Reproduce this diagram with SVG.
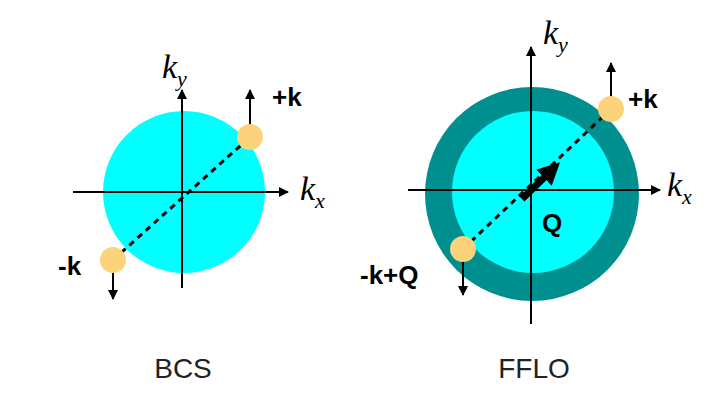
<svg xmlns="http://www.w3.org/2000/svg" width="714" height="414" viewBox="0 0 714 414">
<defs>
<marker id="ah" viewBox="0 0 10 10" refX="9" refY="5" markerWidth="5" markerHeight="5" orient="auto"><path d="M0,0 L10,5 L0,10 z" fill="#000"/></marker>
<marker id="ahq" viewBox="0 0 10 10" refX="5" refY="5" markerWidth="3.2" markerHeight="3.2" orient="auto"><path d="M0,0 L10,5 L0,10 z" fill="#000"/></marker>
<style>
.ax{stroke:#000;stroke-width:2;fill:none}
.dash{stroke:#000;stroke-width:3;stroke-dasharray:6,5;fill:none}
.ball{fill:#fcd27a}
.lbl{font-family:"Liberation Sans",Arial,sans-serif;font-weight:bold;font-size:26px;fill:#000}
.math{font-family:"Liberation Serif","Times New Roman",serif;font-style:italic;font-size:34px;fill:#000}
.sub{font-size:22px}
.cap{font-family:"Liberation Sans",Arial,sans-serif;font-size:28px;fill:#222;text-anchor:middle}
</style>
</defs>
<g id="bcs">
<circle cx="184" cy="192" r="81" fill="#00ffff"/>
<line class="ax" x1="73" y1="192" x2="288" y2="192" marker-end="url(#ah)"/>
<line class="ax" x1="182" y1="288" x2="182" y2="90" marker-end="url(#ah)"/>
<line class="dash" x1="113" y1="260" x2="250" y2="137"/>
<line class="ax" x1="250" y1="128" x2="250" y2="90" marker-end="url(#ah)"/>
<line class="ax" x1="113" y1="270" x2="113" y2="299" marker-end="url(#ah)"/>
<circle class="ball" cx="250" cy="137" r="13"/>
<circle class="ball" cx="113" cy="260" r="13"/>
<text class="lbl" x="272" y="106">+k</text>
<text class="lbl" x="58" y="275">-k</text>
<text class="math" x="162" y="78">k<tspan class="sub" dy="8">y</tspan></text>
<text class="math" x="300" y="200">k<tspan class="sub" dy="8">x</tspan></text>
<text class="cap" x="183" y="378">BCS</text>
</g>
<g id="fflo">
<circle cx="532" cy="194" r="107" fill="#008f8f"/>
<circle cx="533" cy="192" r="81" fill="#00ffff"/>
<line class="ax" x1="408" y1="190" x2="660" y2="190" marker-end="url(#ah)"/>
<line class="ax" x1="531" y1="324" x2="531" y2="47" marker-end="url(#ah)"/>
<line class="dash" x1="463" y1="249" x2="611" y2="109"/>
<line stroke="#000" stroke-width="7" x1="522" y1="199" x2="552" y2="170" marker-end="url(#ahq)"/>
<line class="ax" x1="611" y1="100" x2="611" y2="63" marker-end="url(#ah)"/>
<line class="ax" x1="463" y1="259" x2="463" y2="295" marker-end="url(#ah)"/>
<circle class="ball" cx="611" cy="109" r="13"/>
<circle class="ball" cx="463" cy="249" r="13"/>
<text class="lbl" x="628" y="108">+k</text>
<text class="lbl" x="360" y="284">-k+Q</text>
<text class="lbl" x="542" y="232">Q</text>
<text class="math" x="543" y="44">k<tspan class="sub" dy="8">y</tspan></text>
<text class="math" x="667" y="196">k<tspan class="sub" dy="8">x</tspan></text>
<text class="cap" x="534" y="378">FFLO</text>
</g>
</svg>
